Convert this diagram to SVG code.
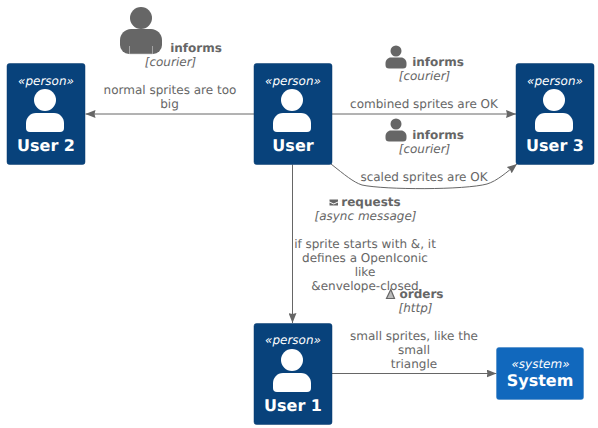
<svg xmlns="http://www.w3.org/2000/svg" width="598" height="428" viewBox="0 0 598 428">
<style>
text{font-family:"DejaVu Sans",sans-serif;text-anchor:middle;text-rendering:geometricPrecision}
.box{fill:#08427B;stroke:#073B6F;stroke-width:.5}
.sys{fill:#1168BD;stroke:#3C7FC0;stroke-width:.5}
.st{font-size:12px;font-style:italic;fill:#fff}
.nm{font-size:16px;font-weight:bold;fill:#fff}
.l{font-size:12px;fill:#666}
.b{font-size:12px;font-weight:bold;fill:#666}
.i{font-size:12px;font-style:italic;fill:#666}
.c{fill:none;stroke:#666;stroke-width:1}
.sp{fill:#666}
.w{fill:#fff}
</style>
<defs>
<marker id="arr" viewBox="0 0 10 8" refX="10" refY="4" markerWidth="10" markerHeight="8" markerUnits="userSpaceOnUse" orient="auto"><path d="M0 0L10 4L0 8L1 4Z" fill="#666"/></marker>
<g id="person"><circle cx="0" cy="0" r="11" class="w"/><path d="M-9 13H9C15 13 19 18 19 23V28A4 4 0 0 1 15 32H-15A4 4 0 0 1 -19 28V23C-19 18 -15 13 -9 13Z" class="w"/></g>
<g id="mini"><circle cx="0" cy="0" r="5.500" class="sp"/><path d="M-5 6.500H5C8 6.500 10.500 9 10.500 12V14A3.500 3.500 0 0 1 7 17.500H-7A3.500 3.500 0 0 1 -10.500 14V12C-10.500 9 -8 6.500 -5 6.500Z" class="sp"/></g>
</defs>
<g id="connectors">
<path class="c" d="M254 114H85.500" marker-end="url(#arr)"/>
<path class="c" d="M332 114H516" marker-end="url(#arr)"/>
<path class="c" d="M331 164C345 175 353 182 362 185C385 190 465 190 487 184C497 181 507 172 517 164" marker-end="url(#arr)"/>
<path class="c" d="M292.500 164.500V323" marker-end="url(#arr)"/>
<path class="c" d="M332 373.500H496.500" marker-end="url(#arr)"/>
</g>
<g id="label-user2">
<circle cx="141" cy="18" r="11" class="sp"/><path d="M131 29H151C157 29 162 34 162 40V45A9 9 0 0 1 153 54H129A9 9 0 0 1 120 45V40C120 34 125 29 131 29Z" class="sp"/><path d="M129.500 46V54H152.500V46" fill="none" stroke="#ccc" stroke-width=".6"/>
<text class="b" x="196" y="52">informs</text>
<text class="i" x="170.500" y="66">[courier]</text>
<text class="l" x="170" y="94">normal sprites are too</text>
<text class="l" x="169.500" y="108">big</text>
</g>
<g id="label-user3">
<use href="#mini" x="396" y="51"/>
<text class="b" x="438" y="66">informs</text>
<text class="i" x="424.500" y="80">[courier]</text>
<text class="l" x="424" y="108">combined sprites are OK</text>
</g>
<g id="label-user3-scaled">
<use href="#mini" x="396" y="124"/>
<text class="b" x="438" y="139">informs</text>
<text class="i" x="424.500" y="153">[courier]</text>
<text class="l" x="424" y="181">scaled sprites are OK</text>
</g>
<g id="label-user1">
<path d="M329.500 199.500H338V201.500L333.700 203.500L329.500 201.500ZM329.500 202.500L333.700 204.500L338 202.500V205.500H329.500Z" class="sp"/>
<text class="b" x="371" y="206">requests</text>
<text class="i" x="365.500" y="220">[async message]</text>
<text class="l" x="365" y="248">if sprite starts with &amp;, it</text>
<text class="l" x="365" y="262">defines a OpenIconic</text>
<text class="l" x="365" y="276">like</text>
<text class="l" x="365" y="290">&amp;envelope-closed</text>
</g>
<g id="label-system">
<path d="M390.800 289.500L394.500 298.500H386.500Z" fill="#bbb" stroke="#666" stroke-width="1.200"/>
<text class="b" x="421.500" y="298">orders</text>
<text class="i" x="415.500" y="312">[http]</text>
<text class="l" x="414" y="340">small sprites, like the</text>
<text class="l" x="414" y="354">small</text>
<text class="l" x="414" y="368">triangle</text>
</g>
<g id="user2">
<rect class="box" x="7" y="63.500" width="78" height="101" rx="2.500"/>
<text class="st" x="46" y="85">«person»</text>
<use href="#person" x="45" y="100"/>
<text class="nm" x="46" y="151">User 2</text>
</g>
<g id="user">
<rect class="box" x="254" y="63.500" width="78" height="101" rx="2.500"/>
<text class="st" x="293" y="85">«person»</text>
<use href="#person" x="292" y="100"/>
<text class="nm" x="293" y="151">User</text>
</g>
<g id="user3">
<rect class="box" x="516" y="63.500" width="78" height="101" rx="2.500"/>
<text class="st" x="555" y="85">«person»</text>
<use href="#person" x="554" y="100"/>
<text class="nm" x="555" y="151">User 3</text>
</g>
<g id="user1">
<rect class="box" x="254" y="323.500" width="78" height="101" rx="2.500"/>
<text class="st" x="293" y="344">«person»</text>
<use href="#person" x="292" y="360"/>
<text class="nm" x="293" y="411">User 1</text>
</g>
<g id="system">
<rect class="sys" x="496.500" y="347.500" width="87" height="52" rx="2.500"/>
<text class="st" x="540.500" y="368">«system»</text>
<text class="nm" x="540" y="386">System</text>
</g>
</svg>
